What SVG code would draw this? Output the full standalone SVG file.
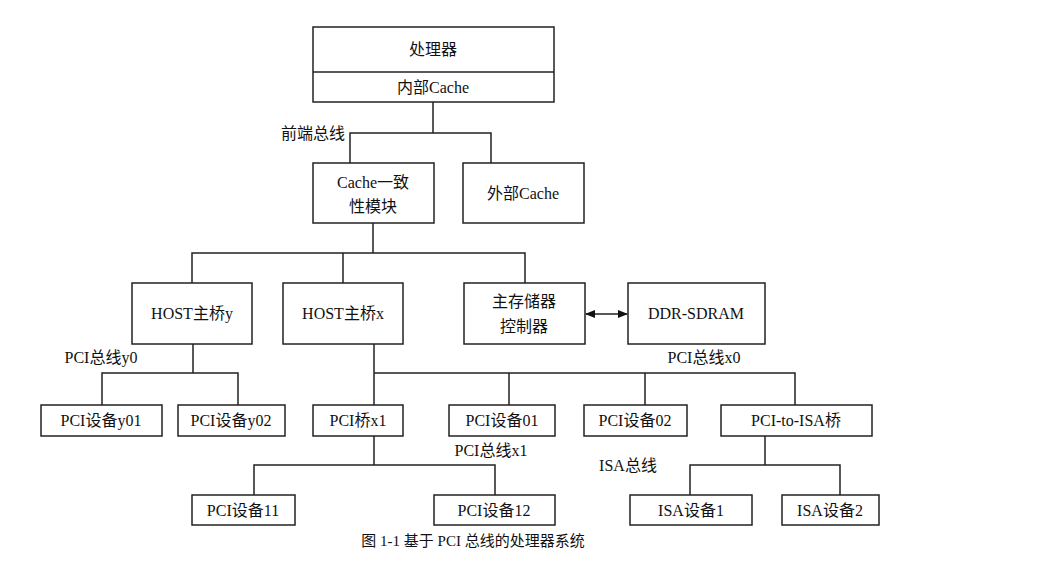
<svg xmlns="http://www.w3.org/2000/svg" width="1060" height="574" viewBox="0 0 1060 574">
<defs>
<style>
.b{fill:#fff;stroke:#222;stroke-width:1.5}
.l{fill:none;stroke:#222;stroke-width:1.5}
text{font-family:"Liberation Serif","Noto Sans CJK SC",serif;font-size:16px;fill:#111;text-anchor:middle;dominant-baseline:central}
.s{text-anchor:start}
</style>
<marker id="a" viewBox="0 0 10 10" refX="9" refY="5" markerWidth="7" markerHeight="7" orient="auto-start-reverse"><path d="M0,1L10,5L0,9z" fill="#111"/></marker>
</defs>
<rect width="1060" height="574" fill="#fff"/>
<g id="connectors" class="l">
<path d="M433,102V133M350,163V133H491V163"/>
<path d="M373,223V253M192,283V253H525V283M343,253V283"/>
<path d="M586,314H627" marker-start="url(#a)" marker-end="url(#a)"/>
<path d="M193,344V373M102,405V373H238V405"/>
<path d="M374,344V405M374,373H795V405M509,373V405M645,373V405"/>
<path d="M374,436V465M254,495V465H495V495"/>
<path d="M765,436V465M690,495V465H840V495"/>
</g>
<g id="cpu"><rect class="b" x="313" y="27" width="241" height="75"/><line class="l" x1="313" y1="72" x2="554" y2="72"/><text x="433" y="49">处理器</text><text x="433" y="87">内部Cache</text></g>
<g id="coh"><rect class="b" x="313" y="163" width="121" height="60"/><text x="373" y="182">Cache一致</text><text x="373" y="206">性模块</text></g>
<g id="ext"><rect class="b" x="463" y="163" width="121" height="60"/><text x="523" y="193">外部Cache</text></g>
<g id="hosty"><rect class="b" x="132" y="283" width="120" height="61"/><text x="192" y="313">HOST主桥y</text></g>
<g id="hostx"><rect class="b" x="283" y="283" width="120" height="61"/><text x="343" y="313">HOST主桥x</text></g>
<g id="mc"><rect class="b" x="464" y="283" width="121" height="61"/><text x="524" y="301">主存储器</text><text x="524" y="326">控制器</text></g>
<g id="ddr"><rect class="b" x="628" y="283" width="137" height="61"/><text x="696" y="313">DDR-SDRAM</text></g>
<g id="y01"><rect class="b" x="41" y="405" width="121" height="31"/><text x="101" y="420">PCI设备y01</text></g>
<g id="y02"><rect class="b" x="178" y="405" width="107" height="31"/><text x="231" y="420">PCI设备y02</text></g>
<g id="x1"><rect class="b" x="313" y="405" width="90" height="31"/><text x="358" y="420">PCI桥x1</text></g>
<g id="d01"><rect class="b" x="449" y="405" width="106" height="31"/><text x="502" y="420">PCI设备01</text></g>
<g id="d02"><rect class="b" x="584" y="405" width="103" height="31"/><text x="635" y="420">PCI设备02</text></g>
<g id="isab"><rect class="b" x="721" y="405" width="151" height="31"/><text x="796" y="420">PCI-to-ISA桥</text></g>
<g id="d11"><rect class="b" x="192" y="495" width="103" height="30"/><text x="243" y="510">PCI设备11</text></g>
<g id="d12"><rect class="b" x="434" y="495" width="121" height="30"/><text x="494" y="510">PCI设备12</text></g>
<g id="i1"><rect class="b" x="630" y="495" width="122" height="30"/><text x="691" y="510">ISA设备1</text></g>
<g id="i2"><rect class="b" x="782" y="495" width="97" height="30"/><text x="830" y="510">ISA设备2</text></g>
<g id="labels">
<text x="313" y="133">前端总线</text>
<text x="101" y="357">PCI总线y0</text>
<text x="704" y="357">PCI总线x0</text>
<text x="491" y="450">PCI总线x1</text>
<text x="628" y="465">ISA总线</text>
<text x="473" y="541" style="font-size:15px">图 1-1 基于 PCI 总线的处理器系统</text>
</g>
</svg>
